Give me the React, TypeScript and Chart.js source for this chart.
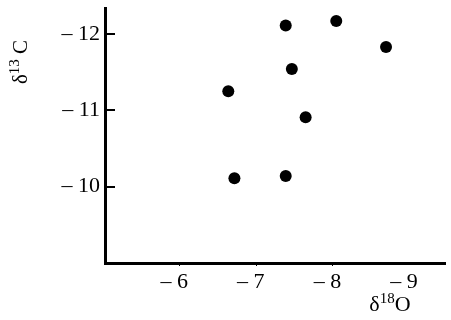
import { useEffect, useRef } from "react";
import { Chart, registerables } from "chart.js";

Chart.register(...registerables);

// δ18O (x) and δ13C (y) values
const d18O = [-7.39, -8.05, -8.7, -7.47, -6.64, -7.65, -6.72, -7.39];
const d13C = [-12.11, -12.17, -11.83, -11.54, -11.25, -10.91, -10.11, -10.14];
const xTicks = [-6, -7, -8, -9];
const yTicks = [-12, -11, -10];

const FONT = "'Liberation Serif', 'DejaVu Serif', 'Times New Roman', serif";

const fmt = (v: number) => (v < 0 ? "\u2013 " + Math.abs(v) : String(v));

function drawParts(
  ctx: CanvasRenderingContext2D,
  parts: { t: string; size: number; rise: number }[],
  cx: number,
  baseline: number
) {
  let total = 0;
  const widths = parts.map((p) => {
    ctx.font = `${p.size}px ${FONT}`;
    const w = ctx.measureText(p.t).width;
    total += w;
    return w;
  });
  let x = cx - total / 2;
  parts.forEach((p, i) => {
    ctx.font = `${p.size}px ${FONT}`;
    ctx.fillText(p.t, x, baseline - p.rise);
    x += widths[i];
  });
}

const decorPlugin = {
  id: "decor",
  afterDraw(chart: any) {
    const ctx: CanvasRenderingContext2D = chart.ctx;
    const yScale = chart.scales.y;
    const xScale = chart.scales.x;
    const left = chart.chartArea.left;
    const bottom = chart.chartArea.bottom;
    ctx.save();
    ctx.strokeStyle = "#000";
    ctx.fillStyle = "#000";
    // inward y ticks
    ctx.lineWidth = 2;
    yTicks.forEach((v) => {
      const py = Math.round(yScale.getPixelForValue(v));
      ctx.beginPath();
      ctx.moveTo(left, py);
      ctx.lineTo(left + 10, py);
      ctx.stroke();
    });
    // faint x tick dots
    ctx.lineWidth = 1;
    xTicks.slice(0, 3).forEach((v) => {
      const px = Math.round(xScale.getPixelForValue(v)) + 0.5;
      ctx.beginPath();
      ctx.moveTo(px, bottom + 1);
      ctx.lineTo(px, bottom + 3);
      ctx.stroke();
    });
    ctx.textAlign = "left";
    ctx.textBaseline = "alphabetic";
    // x title δ18O
    drawParts(
      ctx,
      [
        { t: "δ", size: 22, rise: 0 },
        { t: "18", size: 15, rise: 8 },
        { t: "O", size: 22, rise: 0 },
      ],
      390,
      311
    );
    // y title δ13 C (rotated)
    ctx.translate(27, 62);
    ctx.rotate(-Math.PI / 2);
    drawParts(
      ctx,
      [
        { t: "δ", size: 21, rise: 0 },
        { t: "13", size: 15, rise: 8 },
        { t: " C", size: 21, rise: 0 },
      ],
      0,
      0
    );
    ctx.restore();
  },
};

export default function App() {
  const ref = useRef<HTMLCanvasElement | null>(null);

  useEffect(() => {
    document.body.style.margin = "0";
    if (!ref.current) return;
    Chart.defaults.font.family = FONT;
    Chart.defaults.color = "#000";
    const chart = new Chart(ref.current, {
      type: "scatter",
      data: {
        datasets: [
          {
            data: d18O.map((x, i) => ({ x, y: d13C[i] })),
            backgroundColor: "#000",
            borderWidth: 0,
            pointRadius: 6,
            pointHoverRadius: 6,
          },
        ],
      },
      options: {
        responsive: false,
        animation: false,
        events: [],
        layout: { padding: { top: 8, right: 3, left: 0, bottom: 0 } },
        plugins: {
          legend: { display: false },
          tooltip: { enabled: false },
          title: { display: false },
        },
        scales: {
          x: {
            type: "linear",
            reverse: true,
            min: -9.47,
            max: -5.03,
            afterBuildTicks: (s: any) => {
              s.ticks = xTicks.map((v) => ({ value: v }));
            },
            afterFit: (s: any) => {
              s.height = 57;
              s.paddingLeft = 0;
              s.paddingRight = 0;
              s.paddingTop = 0;
              s.paddingBottom = 0;
            },
            grid: { display: false, drawTicks: false },
            border: { display: true, color: "#000", width: 3 },
            ticks: {
              padding: 6,
              labelOffset: -5,
              font: { size: 22, family: FONT },
              color: "#000",
              callback: (v: any) => fmt(Number(v)),
            },
          },
          y: {
            type: "linear",
            reverse: true,
            min: -12.34,
            max: -9.0,
            afterBuildTicks: (s: any) => {
              s.ticks = yTicks.map((v) => ({ value: v }));
            },
            afterFit: (s: any) => {
              s.width = 105;
              s.paddingLeft = 0;
              s.paddingRight = 0;
              s.paddingTop = 0;
              s.paddingBottom = 0;
            },
            grid: { display: false, drawTicks: false },
            border: { display: true, color: "#000", width: 3 },
            ticks: {
              padding: 5,
              font: { size: 22, family: FONT },
              color: "#000",
              callback: (v: any) => fmt(Number(v)),
            },
          },
        },
      },
      plugins: [decorPlugin],
    });
    return () => chart.destroy();
  }, []);

  return (
    <div style={{ position: "fixed", left: 0, top: 0, width: 451, height: 320, background: "#fff" }}>
      <canvas ref={ref} width={451} height={320} style={{ display: "block" }} />
    </div>
  );
}
